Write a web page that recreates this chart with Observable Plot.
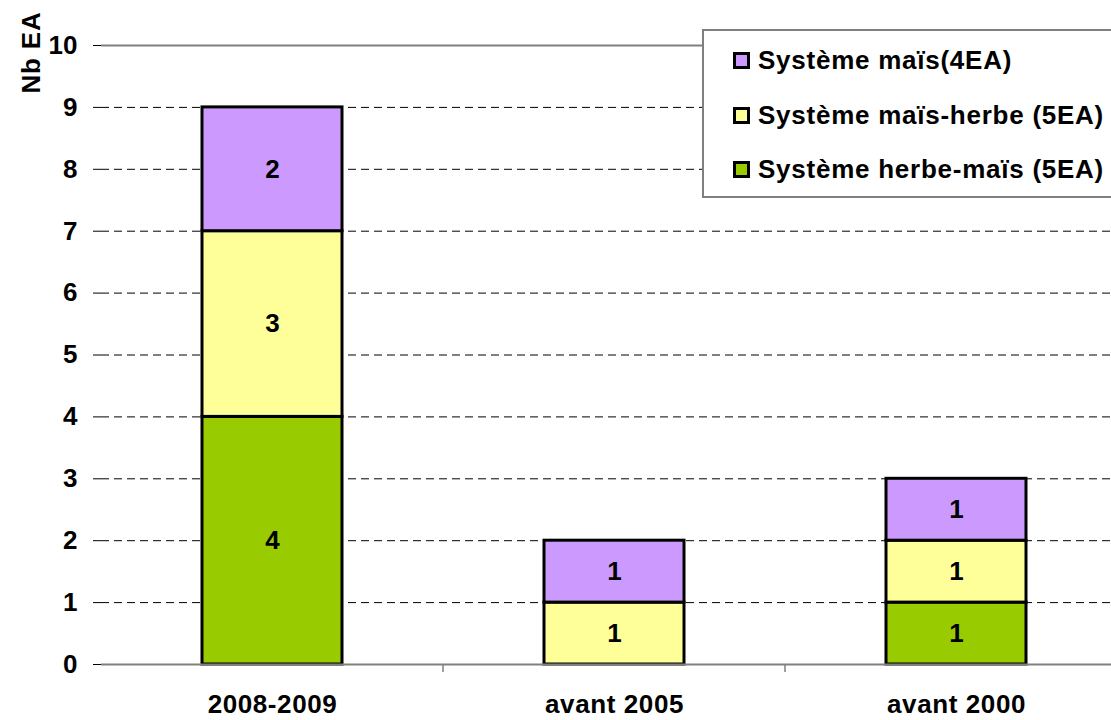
<!DOCTYPE html>
<html><head><meta charset="utf-8">
<script src="https://cdn.jsdelivr.net/npm/d3@7"></script>
<script src="https://cdn.jsdelivr.net/npm/@observablehq/plot@0.6"></script>
<style>
html,body{margin:0;padding:0;background:#fff;overflow:hidden;}
#wrap{position:relative;width:1111px;height:720px;overflow:hidden;font-family:"Liberation Sans",Arial,sans-serif;}
#legend{position:absolute;left:702px;top:29px;width:440px;height:169px;border:2px solid #7f7f7f;background:#fff;box-sizing:border-box;}
.row{position:absolute;left:29px;height:30px;display:flex;align-items:center;font-weight:bold;font-size:26px;letter-spacing:0.75px;color:#000;white-space:nowrap}
.sw{width:11px;height:11px;border:3px solid #000;margin-right:8px}
svg [aria-label="x-axis tick label"] text{letter-spacing:0.6px}
svg .ytitle text{letter-spacing:0.8px}
</style></head>
<body><div id="wrap"></div>
<script>
const categories = ["2008-2009", "avant 2005", "avant 2000"];
const seriesNames = ["Système herbe-maïs (5EA)", "Système maïs-herbe (5EA)", "Système maïs(4EA)"];
const herbeMais = [4, 0, 1];
const maisHerbe = [3, 1, 1];
const mais = [2, 1, 1];
const seriesColors = ["#99CC00", "#FFFF99", "#CC99FF"];
const yTicks = [0, 1, 2, 3, 4, 5, 6, 7, 8, 9, 10];
const yTitle = "Nb EA";

const seriesValues = [herbeMais, maisHerbe, mais];
const data = [];
seriesNames.forEach((s, si) => categories.forEach((c, ci) => {
  const v = seriesValues[si][ci];
  if (v > 0) data.push({cat: c, series: s, value: v});
}));

const chart = Plot.plot({
  width: 1111, height: 720,
  marginTop: 45, marginBottom: 56, marginLeft: 101, marginRight: 0,
  style: {fontFamily: '"Liberation Sans", Arial, sans-serif', color: "#000", background: "#fff", overflow: "hidden"},
  x: {domain: categories, range: [101, 1127], paddingInner: 0.59, paddingOuter: 0.295, label: null},
  y: {domain: [0, 10], label: null},
  color: {domain: seriesNames, range: seriesColors},
  marks: [
    Plot.ruleY(yTicks.filter(t => t > 0 && t < 10), {stroke: "#000", strokeWidth: 1, strokeDasharray: "8,5"}),
    Plot.ruleY([10], {stroke: "#808080", strokeWidth: 2}),
    Plot.barY(data, {x: "cat", y: "value", z: "series", fill: "series", stroke: "#000", strokeWidth: 3, order: seriesNames}),
    Plot.text(data, Plot.stackY({x: "cat", y: "value", z: "series", text: d => String(d.value), order: seriesNames, fontSize: 26, fontWeight: "bold", fill: "#000"})),
    Plot.ruleY([0], {stroke: "#808080", strokeWidth: 2}),
    Plot.ruleX([0], {x: () => 101, y1: 10, y2: -0.14, stroke: "#000", strokeWidth: 1.5}),
    Plot.axisY({ticks: yTicks, tickSize: 8, tickPadding: 16, fontSize: 26, fontWeight: "bold", label: null, stroke: "#000"}),
    Plot.axisX({tickSize: 0, tickPadding: 30, fontSize: 26, fontWeight: "bold", label: null}),
    Plot.text([yTitle], {frameAnchor: "top-left", dx: -80, dy: 7, rotate: -90, fontSize: 26, fontWeight: "bold", text: d => d, fill: "#000", textAnchor: "middle", className: "ytitle"})
  ]
});
document.getElementById("wrap").appendChild(chart);

// category separator ticks on the x axis, from the x scale
const xs = chart.scale("x");
const svg = d3.select(chart);
const step = xs.step !== undefined ? xs.step : (xs.bandwidth / (1 - 0.59));
for (let i = 1; i < categories.length; i++) {
  const xpos = xs.apply(categories[i]) - (step - xs.bandwidth) / 2;
  svg.append("line").attr("x1", xpos).attr("x2", xpos).attr("y1", 664).attr("y2", 672)
    .attr("stroke", "#808080").attr("stroke-width", 1.5);
}

// legend
const legend = document.createElement("div");
legend.id = "legend";
const rowsTop = [14, 69, 123];
[...seriesNames].reverse().forEach((s, i) => {
  const row = document.createElement("div");
  row.className = "row";
  row.style.top = rowsTop[i] + "px";
  const sw = document.createElement("div");
  sw.className = "sw";
  sw.style.background = seriesColors[seriesNames.indexOf(s)];
  row.appendChild(sw);
  const t = document.createElement("span");
  t.textContent = s;
  row.appendChild(t);
  legend.appendChild(row);
});
document.getElementById("wrap").appendChild(legend);
</script>
</body></html>
